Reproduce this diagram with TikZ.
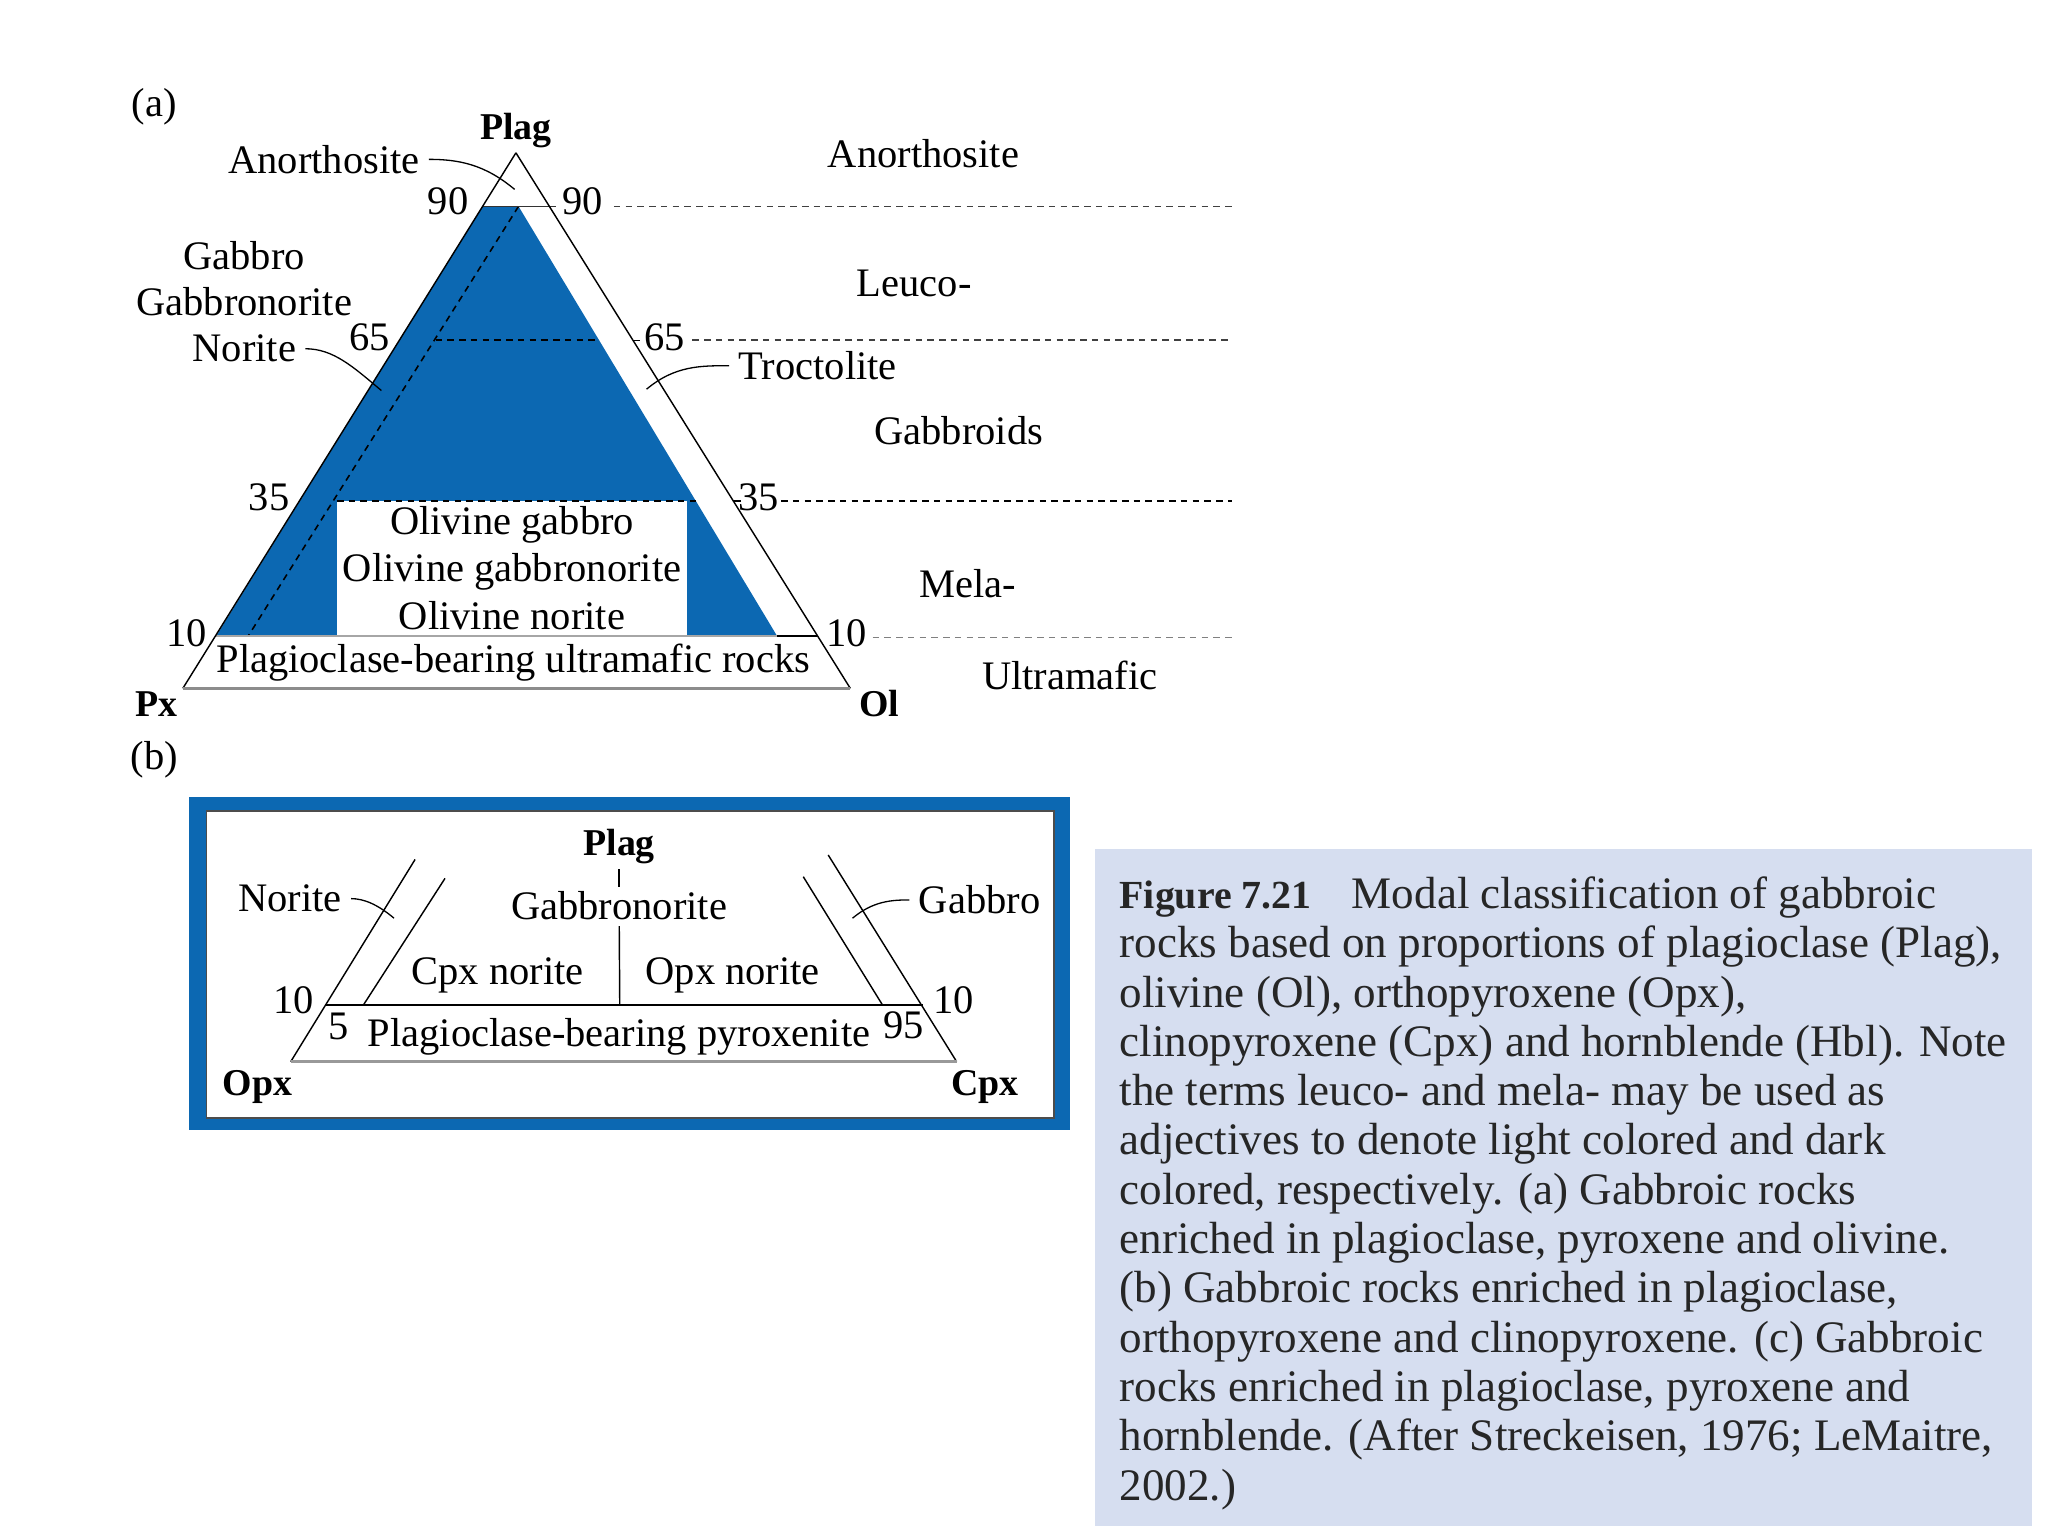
\documentclass[tikz,border=0pt]{standalone}
\usepackage{fontspec}
\setmainfont{Liberation Serif}
\definecolor{plagblue}{RGB}{12,104,178}
\definecolor{capbg}{RGB}{214,222,240}
\begin{document}
\begin{tikzpicture}[x=1pt,y=-1pt,
  lbl/.style={inner sep=0pt,font=\fontsize{31}{35}\selectfont},
  corner/.style={inner sep=0pt,font=\fontsize{29}{35}\selectfont\bfseries},
  side/.style={line width=1.1pt},
  guide/.style={dash pattern=on 5pt off 4pt,line width=1.2pt},
  leader/.style={line width=1pt,shorten <=7pt}]

\useasboundingbox (0,0) rectangle (1568,1176);

% (a) Plag - Px - Ol
\fill[plagblue] (369.5,158) -- (397,158) -- (595,487) -- (165.5,487) -- cycle;
\fill[white] (258,383.5) rectangle (526,487);
\draw[guide] (397,158) -- (190,487);
\draw[guide] (333.5,260.5) -- (458.7,260.5);
\draw[guide] (258,383.5) -- (532.7,383.5);
\draw[side,black!35] (165.5,487) -- (595,487);
\draw[side] (595,487) -- (626,487);
\draw[side,black!80] (369.5,158) -- (426,158);
\draw[side] (484.6,260.5) -- (490,260.5);
\draw[side] (561.4,383.5) -- (567,383.5);
\draw[side] (395,117) -- (140,527);
\draw[side] (395,117) -- (651,527);
\draw[line width=1.8pt,black!45] (140,527) -- (651,527);

\draw[guide,black!75] (470,158) -- (943,158);
\draw[guide,black!75] (530,260.5) -- (943,260.5);
\draw[guide] (598,383.5) -- (943,383.5);
\draw[guide,black!50] (668,488) -- (943,488);

\node[lbl] (tagA) at (118,82) {(a)};
\node[corner] (plagA) at (395,100) {Plag};
\node[corner] (px) at (120,539) {Px};
\node[corner] (ol) at (673,539) {Ol};

\node[lbl] (anoL) at (248,122) {Anorthosite};
\node[lbl] (gabL) at (187,196) {Gabbro};
\node[lbl] (gbnL) at (187,231) {Gabbronorite};
\node[lbl] (norL) at (187,267) {Norite};
\node[lbl] (troc) at (626,280) {Troctolite};
\node[lbl] (olg) at (392,402) {Olivine gabbro};
\node[lbl] (olgn) at (392,438) {Olivine gabbronorite};
\node[lbl] (oln) at (392,471) {Olivine norite};
\node[lbl] (pbur) at (393,507) {Plagioclase-bearing ultramafic rocks};

\node[lbl] (l90) at (343,154) {90};
\node[lbl] (r90) at (446,154) {90};
\node[lbl] (l65) at (283,258) {65};
\node[lbl] (r65) at (509,258) {65};
\node[lbl] (l35) at (206,381) {35};
\node[lbl] (r35) at (581,381) {35};
\node[lbl] (l10) at (143,485) {10};
\node[lbl] (r10) at (648,485) {10};

\node[lbl] (anoR) at (707,118) {Anorthosite};
\node[lbl] (leuco) at (700,217) {Leuco-};
\node[lbl] (gbds) at (734,330) {Gabbroids};
\node[lbl] (mela) at (741,447) {Mela-};
\node[lbl] (umaf) at (819,517) {Ultramafic};

\coordinate (anoEnd) at (394,145);
\coordinate (norEnd) at (292,299);
\coordinate (trocEnd) at (495,298);
\draw[leader] (anoL.east) to[out=0,in=140] (anoEnd);
\draw[leader] (norL.east) to[out=0,in=140] (norEnd);
\draw[leader] (troc.west) to[out=180,in=40] (trocEnd);

% (b) Plag - Opx - Cpx
\node[lbl] (tagB) at (118,582) {(b)};
\fill[plagblue] (145,610) rectangle (819,865);
\fill[white] (158,621) rectangle (807,856);
\draw[line width=1.2pt,black!70] (158,856) -- (158,621) -- (807,621) -- (807,856) -- cycle;

\draw[side] (222.6,812.8) -- (317.8,658);
\draw[side] (278.2,769.5) -- (340.7,672.5);
\draw[side] (732.4,812.8) -- (634.1,654.6);
\draw[side] (675.7,769.5) -- (615,671.2);
\draw[side] (249.6,769.5) -- (706.9,769.5);
\draw[line width=2pt,black!40] (222.6,812.8) -- (732.4,812.8);

\node[corner] (plagB) at (474,648) {Plag};
\node[corner] (opx) at (197,832) {Opx};
\node[corner] (cpx) at (754,832) {Cpx};
\node[lbl] (gbnB) at (474,693) {Gabbronorite};
\node[lbl] (norB) at (222,688) {Norite};
\node[lbl] (gabB) at (750,689) {Gabbro};
\node[lbl] (cpxn) at (381,747) {Cpx norite};
\node[lbl] (opxn) at (561,747) {Opx norite};
\node[lbl] (pbp) at (474,794) {Plagioclase-bearing pyroxenite};
\node[lbl] (b10l) at (225,766) {10};
\node[lbl] (b10r) at (730,766) {10};
\node[lbl] (b5) at (259,786) {5};
\node[lbl] (b95) at (692,785) {95};

\coordinate (midB) at (474.5,769.5);
\coordinate (norBEnd) at (301.7,703);
\coordinate (gabBEnd) at (652.7,703);
\draw[side,shorten <=4pt,shorten >=3pt] (plagB) -- (gbnB);
\draw[side,shorten <=5pt] (gbnB) -- (midB);
\draw[leader] (norB.east) to[out=0,in=140] (norBEnd);
\draw[leader] (gabB.west) to[out=180,in=40] (gabBEnd);

% caption
\fill[capbg] (838,650) rectangle (1556,1168);
\node[inner sep=0pt,anchor=north west,align=left,text=black!85,
  font=\fontsize{34.5}{37.75}\selectfont] (cap) at (857,671)
{{\fontsize{30.5}{37.75}\selectfont\bfseries Figure 7.21}\hspace{31pt}Modal classification of gabbroic\\
rocks based on proportions of plagioclase (Plag),\\
olivine (Ol), orthopyroxene (Opx),\\
clinopyroxene (Cpx) and hornblende (Hbl). Note\\
the terms leuco- and mela- may be used as\\
adjectives to denote light colored and dark\\
colored, respectively. (a) Gabbroic rocks\\
enriched in plagioclase, pyroxene and olivine.\\
(b) Gabbroic rocks enriched in plagioclase,\\
orthopyroxene and clinopyroxene. (c) Gabbroic\\
rocks enriched in plagioclase, pyroxene and\\
hornblende. (After Streckeisen, 1976; LeMaitre,\\
2002.)};

\end{tikzpicture}
\end{document}
